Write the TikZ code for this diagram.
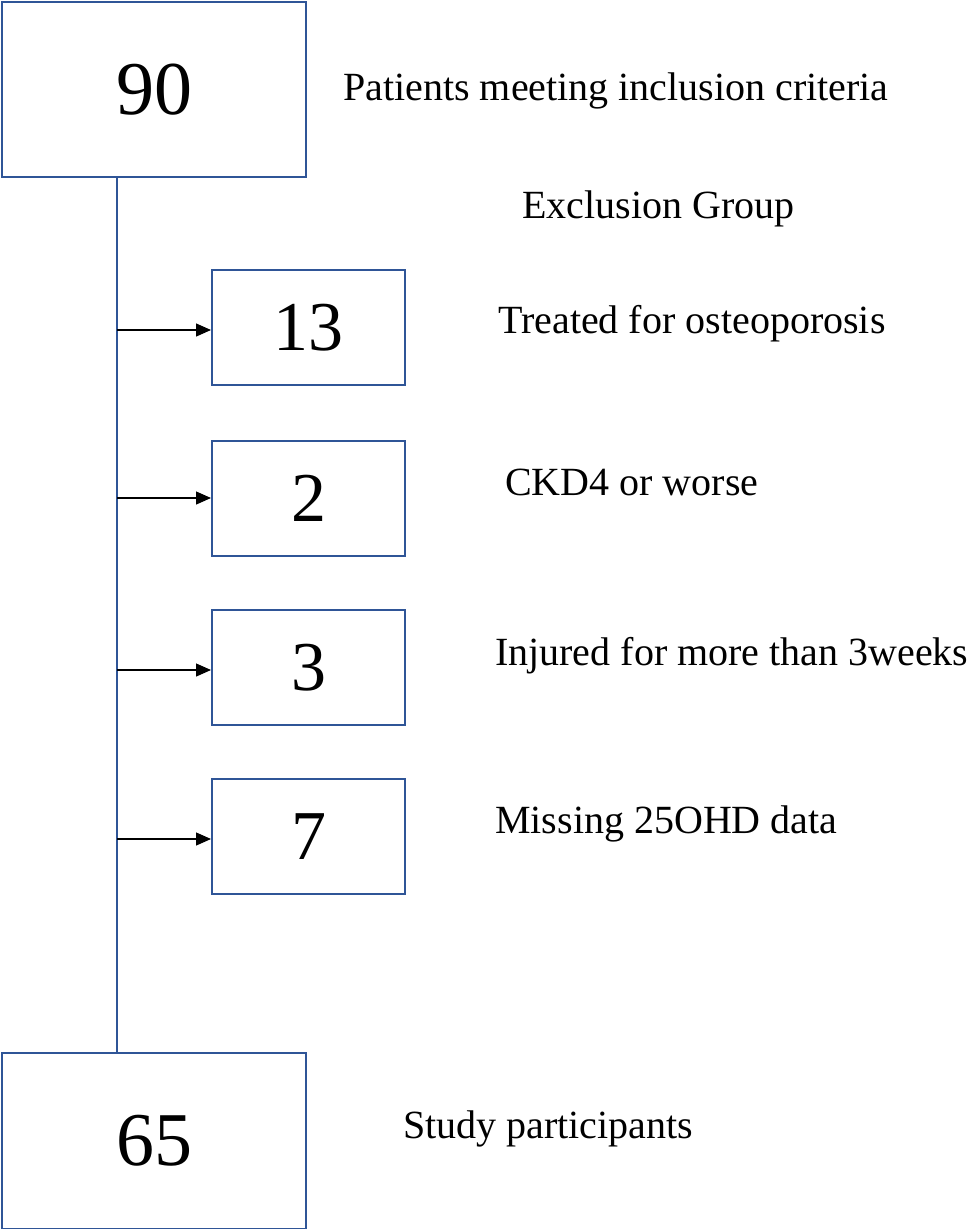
\documentclass[tikz,border=0pt]{standalone}
\usepackage{fontspec}
\setmainfont{Liberation Serif}
\usetikzlibrary{arrows.meta}
\definecolor{boxblue}{RGB}{47,85,151}
\begin{document}
\begin{tikzpicture}[x=1pt,y=-1pt,
  bigbox/.style={draw=boxblue,line width=2pt,minimum width=304pt,minimum height=175pt,inner sep=0pt,font=\fontsize{76}{80}\selectfont,anchor=north west},
  smallbox/.style={draw=boxblue,line width=2pt,minimum width=193pt,minimum height=115pt,inner sep=0pt,font=\fontsize{70}{74}\selectfont,anchor=north west},
  lbl/.style={anchor=base west,inner sep=0pt,font=\fontsize{40}{43}\selectfont},
  trunk/.style={draw=boxblue,line width=1.5pt},
  arr/.style={draw=black,line width=1.3pt,-{Triangle[length=15pt,width=13pt]}}]
\useasboundingbox (0,0) rectangle (968,1229);
\node[bigbox] (top) at (1,1) {90};
\node[bigbox,minimum height=176pt] (bot) at (1,1052) {65};
\node[smallbox] (b1) at (211,269) {13};
\node[smallbox] (b2) at (211,440) {2};
\node[smallbox] (b3) at (211,609) {3};
\node[smallbox] (b4) at (211,778) {7};
\draw[trunk] (top.south -| 117,0) -- (bot.north -| 117,0);
\coordinate (t1) at (117,330);
\coordinate (t2) at (117,498);
\coordinate (t3) at (117,670);
\coordinate (t4) at (117,839);
\draw[arr] (t1) -- (t1 -| b1.west);
\draw[arr] (t2) -- (t2 -| b2.west);
\draw[arr] (t3) -- (t3 -| b3.west);
\draw[arr] (t4) -- (t4 -| b4.west);
\node[lbl] (l0) at (343,100) {Patients meeting inclusion criteria};
\node[lbl] (lx) at (522,218) {Exclusion Group};
\node[lbl] (l1) at (498,333) {Treated for osteoporosis};
\node[lbl] (l2) at (505,495) {CKD4 or worse};
\node[lbl] (l3) at (495,665) {Injured for more than 3weeks};
\node[lbl] (l4) at (495,833) {Missing 25OHD data};
\node[lbl] (l5) at (403,1138) {Study participants};
\end{tikzpicture}
\end{document}
